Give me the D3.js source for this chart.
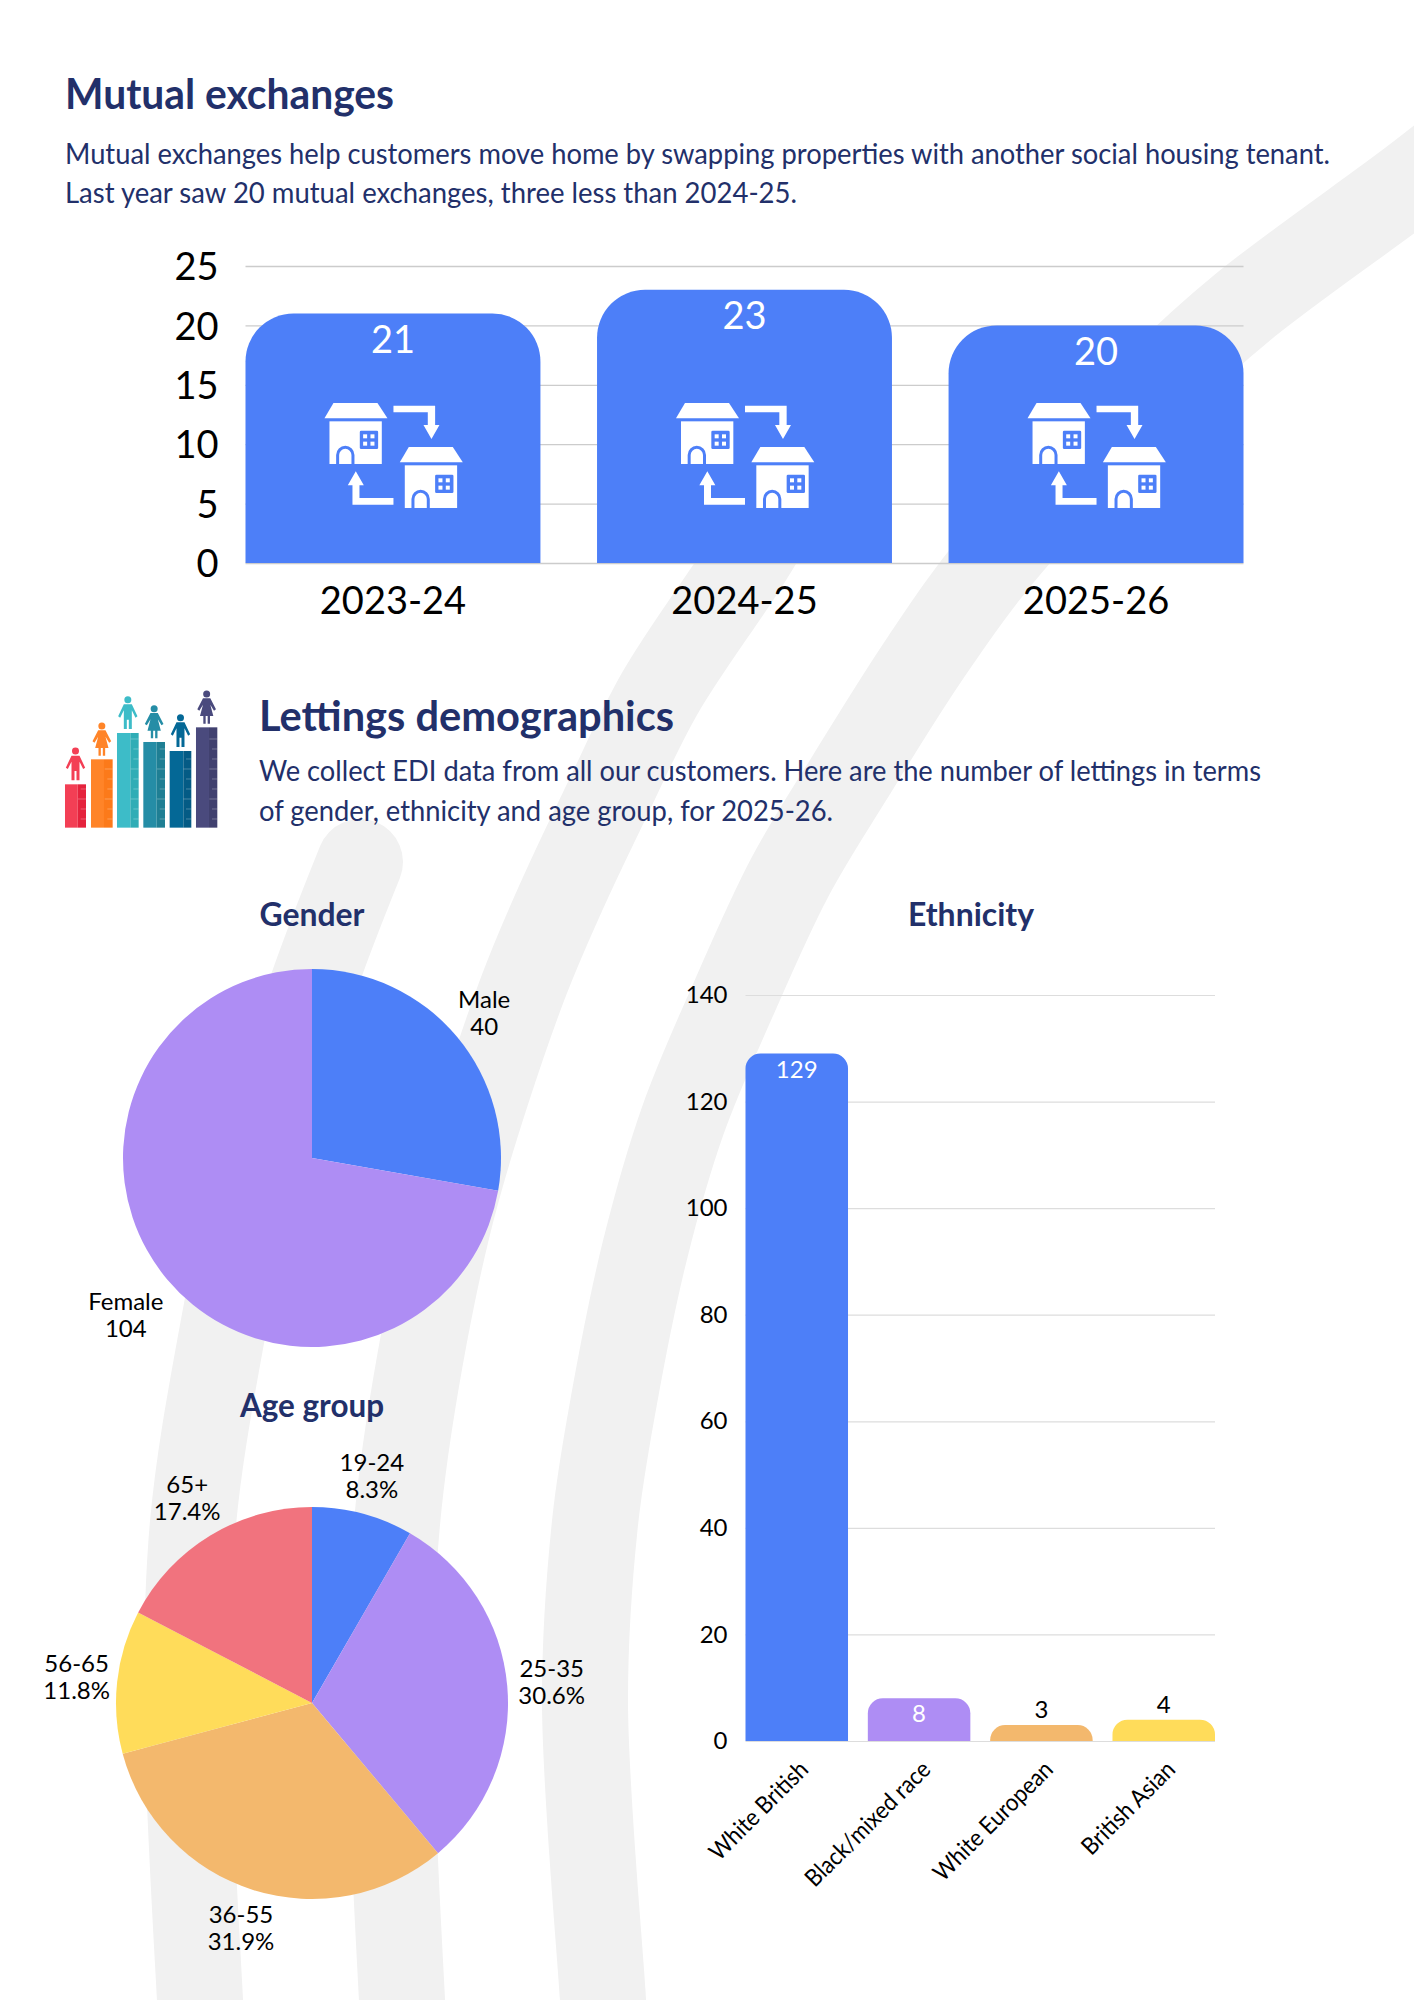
<!DOCTYPE html>
<html>
<head>
<meta charset="utf-8">
<title>Mutual exchanges and lettings demographics</title>
<script src="https://cdn.jsdelivr.net/npm/d3@7"></script>
<style>
  html, body { margin: 0; padding: 0; background: #fff; }
  svg { display: block; }
  text { font-family: Lato, "Open Sans", sans-serif; }
  .domain { display: none; }
</style>
</head>
<body>
<div id="page"></div>
<script>
// mutual exchanges per year
var years = ["2023-24", "2024-25", "2025-26"];
var exchanges = [21, 23, 20];
var exchangeTicks = [0, 5, 10, 15, 20, 25];

// gender
var genders = ["Male", "Female"];
var genderCounts = [40, 104];

// ethnicity
var ethnicities = ["White British", "Black/mixed race", "White European", "British Asian"];
var ethnicityCounts = [129, 8, 3, 4];
var ethnicityTicks = [0, 20, 40, 60, 80, 100, 120, 140];

// age group, labels show the share of the total
var ageGroups = ["19-24", "25-35", "36-55", "56-65", "65+"];
var ageCounts = [12, 44, 46, 17, 25];

var navy = "#22306a",
    blue = "#4d7ff8",
    purple = "#ae8df4",
    orange = "#f3b86d",
    yellow = "#ffdc5a",
    pink = "#f1737e";

var svg = d3.select("#page").append("svg")
    .attr("width", 1414)
    .attr("height", 2000);

// grey swooshes behind everything
var swoosh = d3.line().curve(d3.curveCatmullRom.alpha(0.5));
var swooshes = [
    {cap: "butt", pts: [[1480,128],[1414,180],[1243,307],[1160,382],[994,563],[924,660],[850,777],[790,877],[733,1000],[683,1120],[645,1250],[614,1400],[595,1523],[585,1702],[603,2000],[606,2050]]},
    {cap: "butt", pts: [[790,490],[746,563],[660,693],[607,800],[563,893],[521,993],[455,1198],[420,1360],[397,1523],[390,1700],[402,2000],[405,2050]]},
    {cap: "round", pts: [[360,862],[322,960],[268,1120],[220,1345],[193,1523],[187,1700],[200,2000],[203,2050]]}
];
svg.append("g").selectAll("path")
    .data(swooshes)
    .enter().append("path")
    .attr("d", function(d) { return swoosh(d.pts); })
    .attr("fill", "none")
    .attr("stroke", "#f1f1f1")
    .attr("stroke-width", 86)
    .attr("stroke-linecap", function(d) { return d.cap; });

// headings and intro text, squeezed to the width they have in the layout
function label(txt, x, y, size, weight, len, anchor) {
    var t = svg.append("text")
        .attr("x", x)
        .attr("y", y)
        .attr("font-size", size)
        .attr("font-weight", weight)
        .attr("fill", navy)
        .attr("text-anchor", anchor || "start")
        .text(txt);
    if (len) t.attr("textLength", len).attr("lengthAdjust", "spacingAndGlyphs");
    return t;
}

label("Mutual exchanges", 65, 108.5, 42, 700, 329);
label("Mutual exchanges help customers move home by swapping properties with another social housing tenant.", 65, 164, 29, 400, 1265);
label("Last year saw 20 mutual exchanges, three less than 2024-25.", 65, 203, 29, 400, 732);
label("Lettings demographics", 259, 731, 42, 700, 415);
label("We collect EDI data from all our customers. Here are the number of lettings in terms", 259, 781, 29, 400, 1002);
label("of gender, ethnicity and age group, for 2025-26.", 259, 821, 29, 400, 574);
label("Gender", 312, 926, 33, 700, 105, "middle");
label("Ethnicity", 971, 926, 33, 700, 126, "middle");
label("Age group", 312, 1417, 33, 700, 144, "middle");

// bar with only the top corners rounded
function topRounded(x, y, w, h, r) {
    r = Math.min(r, h, w / 2);
    return "M" + x + "," + (y + h) + "V" + (y + r) +
        "A" + r + "," + r + " 0 0 1 " + (x + r) + "," + y +
        "H" + (x + w - r) +
        "A" + r + "," + r + " 0 0 1 " + (x + w) + "," + (y + r) +
        "V" + (y + h) + "Z";
}

// ---- mutual exchanges bars ----
var x1 = d3.scaleBand().domain(years).range([245.5, 1243.5]).paddingInner(0.161);
var y1 = d3.scaleLinear().domain([0, 25]).range([563, 266]);

var axisY1 = svg.append("g")
    .attr("transform", "translate(245.5,0)")
    .call(d3.axisLeft(y1).tickValues(exchangeTicks).tickSize(-998).tickPadding(27));
axisY1.selectAll("line").attr("stroke", "#cccccc").attr("stroke-width", 1.3);
axisY1.selectAll("text").attr("font-size", 38).attr("fill", "#000").attr("dy", "0.36em");

var bars1 = svg.append("g").selectAll("g")
    .data(years)
    .enter().append("g");

bars1.append("path")
    .attr("fill", blue)
    .attr("d", function(d, i) {
        return topRounded(x1(d), y1(exchanges[i]), x1.bandwidth(), y1(0) - y1(exchanges[i]), 48);
    });

bars1.append("text")
    .attr("x", function(d) { return x1(d) + x1.bandwidth() / 2; })
    .attr("y", function(d, i) { return y1(exchanges[i]) + 39.5; })
    .attr("text-anchor", "middle")
    .attr("font-size", 38)
    .attr("fill", "#fff")
    .text(function(d, i) { return exchanges[i]; });

// swap icon, drawn in a 690 x 313 box then scaled down
function swapIcon(g) {
    function house(h) {
        h.append("path").attr("fill", "#fff").attr("d", "M27,0H159L189,46H0Z");
        h.append("rect").attr("fill", "#fff").attr("x", 15).attr("y", 55).attr("width", 157).attr("height", 128);
        h.append("rect").attr("fill", blue).attr("x", 106).attr("y", 83).attr("width", 55).attr("height", 55).attr("rx", 4);
        [[116, 94], [138, 94], [116, 116], [138, 116]].forEach(function(p) {
            h.append("rect").attr("fill", "#fff").attr("x", p[0]).attr("y", p[1]).attr("width", 12).attr("height", 12);
        });
        h.append("path").attr("fill", "none").attr("stroke", blue).attr("stroke-width", 9)
            .attr("d", "M39.5,183V156a23,23 0 0 1 46,0V183");
    }
    house(g.append("g"));
    house(g.append("g").attr("transform", "translate(226,132)"));
    g.append("path").attr("fill", "#fff")
        .attr("d", "M207,8H332V66H345L321,108L297,66H310V28H207Z");
    g.append("path").attr("fill", "#fff")
        .attr("d", "M207,285V305H84V247H70L94,205L118,247H105V285Z");
}

years.forEach(function(d) {
    var g = svg.append("g")
        .attr("transform", "translate(" + (x1(d) + x1.bandwidth() / 2 - 68.5) + "," + 403 + ") scale(0.3333)");
    swapIcon(g);
});

var axisX1 = svg.append("g")
    .attr("transform", "translate(0,563)")
    .call(d3.axisBottom(x1).tickSize(0).tickPadding(24));
axisX1.selectAll("text").attr("font-size", 38).attr("fill", "#000");

// ---- people on bars icon next to the heading ----
var peopleBars = [
    {x: 75, split: 113, end: 138, top: 343, a: "#f33f55", b: "#e5233d", man: true},
    {x: 153, split: 192, end: 218, top: 268, a: "#ff8428", b: "#fc7a1a", man: false},
    {x: 231, split: 271, end: 296, top: 189, a: "#3dbcc8", b: "#30adb6", man: true},
    {x: 310, split: 350, end: 375, top: 216, a: "#258da6", b: "#1f7f94", man: false},
    {x: 389, split: 430, end: 454, top: 243, a: "#046896", b: "#045b85", man: true},
    {x: 468, split: 507, end: 532, top: 172, a: "#4a4a7d", b: "#41416f", man: false}
];
var manPath = "M-12,14L12,14L29,50L23,54L12,32V88H3V60H-3V88H-12V32L-23,54L-29,50Z";
var womanPath = "M-11,13L11,13L28,46L22,50L11,32L20,66H10V89H3V66H-3V89H-10V66H-20L-11,32L-22,50L-28,46Z";

var people = svg.append("g")
    .attr("transform", "translate(40,670) scale(0.3333)");
peopleBars.forEach(function(b) {
    var cx = (b.x + b.end) / 2;
    people.append("rect").attr("x", b.x).attr("y", b.top).attr("width", b.split - b.x).attr("height", 473 - b.top).attr("fill", b.a);
    people.append("rect").attr("x", b.split).attr("y", b.top).attr("width", b.end - b.split).attr("height", 473 - b.top).attr("fill", b.b);
    d3.range(446, b.top + 8, -30).forEach(function(t, i) {
        people.append("rect").attr("x", b.end - (i % 3 === 2 ? 24 : 16)).attr("y", t).attr("width", i % 3 === 2 ? 24 : 16).attr("height", 2).attr("fill", "#fff").attr("opacity", 0.4);
    });
    var p = people.append("g").attr("transform", "translate(" + cx + "," + (b.top - 100) + ")").attr("fill", b.a);
    p.append("circle").attr("r", 10.5);
    p.append("path").attr("d", b.man ? manPath : womanPath);
});

// ---- pies ----
function drawPie(names, counts, colors, cx, cy, r, labelRadius, labelText) {
    var pie = d3.pie().sort(null).value(function(d) { return d; });
    var arc = d3.arc().innerRadius(0).outerRadius(r);
    var arcs = pie(counts);
    var g = svg.append("g").attr("transform", "translate(" + cx + "," + cy + ")");
    g.selectAll("path")
        .data(arcs)
        .enter().append("path")
        .attr("d", arc)
        .attr("fill", function(d, i) { return colors[i]; });
    var labels = g.selectAll("text")
        .data(arcs)
        .enter().append("text")
        .attr("text-anchor", "middle")
        .attr("font-size", 24)
        .attr("fill", "#000")
        .attr("transform", function(d, i) {
            var a = (d.startAngle + d.endAngle) / 2 + labelRadius[i].turn,
                rr = labelRadius[i].r;
            return "translate(" + (rr * Math.sin(a)) + "," + (-rr * Math.cos(a)) + ")";
        });
    labels.append("tspan").attr("x", 0).attr("y", -13.5).text(function(d, i) { return names[i]; });
    labels.append("tspan").attr("x", 0).attr("y", 13.5).text(labelText);
}

var ageTotal = d3.sum(ageCounts);
drawPie(genders, genderCounts, [blue, purple], 312, 1158, 189,
    [{r: 220, turn: 0.026}, {r: 249, turn: -0.028}],
    function(d) { return d.value; });
drawPie(ageGroups, ageCounts, [blue, purple, orange, yellow, pink], 312, 1703, 196,
    [{r: 227, turn: 0.005}, {r: 240, turn: 0.035}, {r: 244, turn: -0.01}, {r: 236, turn: -0.035}, {r: 233, turn: -0.02}],
    function(d) { return (d.value / ageTotal * 100).toFixed(1) + "%"; });

// ---- ethnicity bars ----
var x2 = d3.scaleBand().domain(ethnicities).range([745.5, 1215]).paddingInner(0.162);
var y2 = d3.scaleLinear().domain([0, 140]).range([1741, 995]);

var axisY2 = svg.append("g")
    .attr("transform", "translate(745.5,0)")
    .call(d3.axisLeft(y2).tickValues(ethnicityTicks).tickSize(-469.5).tickPadding(18));
axisY2.selectAll("line").attr("stroke", "#dddddd").attr("stroke-width", 1.2);
axisY2.selectAll("text").attr("font-size", 24).attr("fill", "#000");

var ethColors = [blue, purple, orange, yellow];
var bars2 = svg.append("g").selectAll("g")
    .data(ethnicities)
    .enter().append("g");

bars2.append("path")
    .attr("fill", function(d, i) { return ethColors[i]; })
    .attr("d", function(d, i) {
        return topRounded(x2(d), y2(ethnicityCounts[i]), x2.bandwidth(), y2(0) - y2(ethnicityCounts[i]), 15);
    });

// small bars get the number above the bar
bars2.append("text")
    .attr("x", function(d) { return x2(d) + x2.bandwidth() / 2; })
    .attr("y", function(d, i) {
        var c = ethnicityCounts[i];
        return y2(c) + (c < 5 ? -7 : 24);
    })
    .attr("text-anchor", "middle")
    .attr("font-size", 24)
    .attr("fill", function(d, i) { return ethnicityCounts[i] < 5 ? "#000" : "#fff"; })
    .text(function(d, i) { return ethnicityCounts[i]; });

var axisX2 = svg.append("g")
    .attr("transform", "translate(0,1741)")
    .call(d3.axisBottom(x2).tickSize(0));
axisX2.selectAll("text")
    .attr("font-size", 24)
    .attr("fill", "#000")
    .attr("text-anchor", "end")
    .attr("dy", null)
    .attr("y", 0)
    .attr("transform", "translate(13,30) rotate(-45)")
    .attr("textLength", function() { return this.getComputedTextLength() * 0.92; })
    .attr("lengthAdjust", "spacingAndGlyphs");
</script>
</body>
</html>
